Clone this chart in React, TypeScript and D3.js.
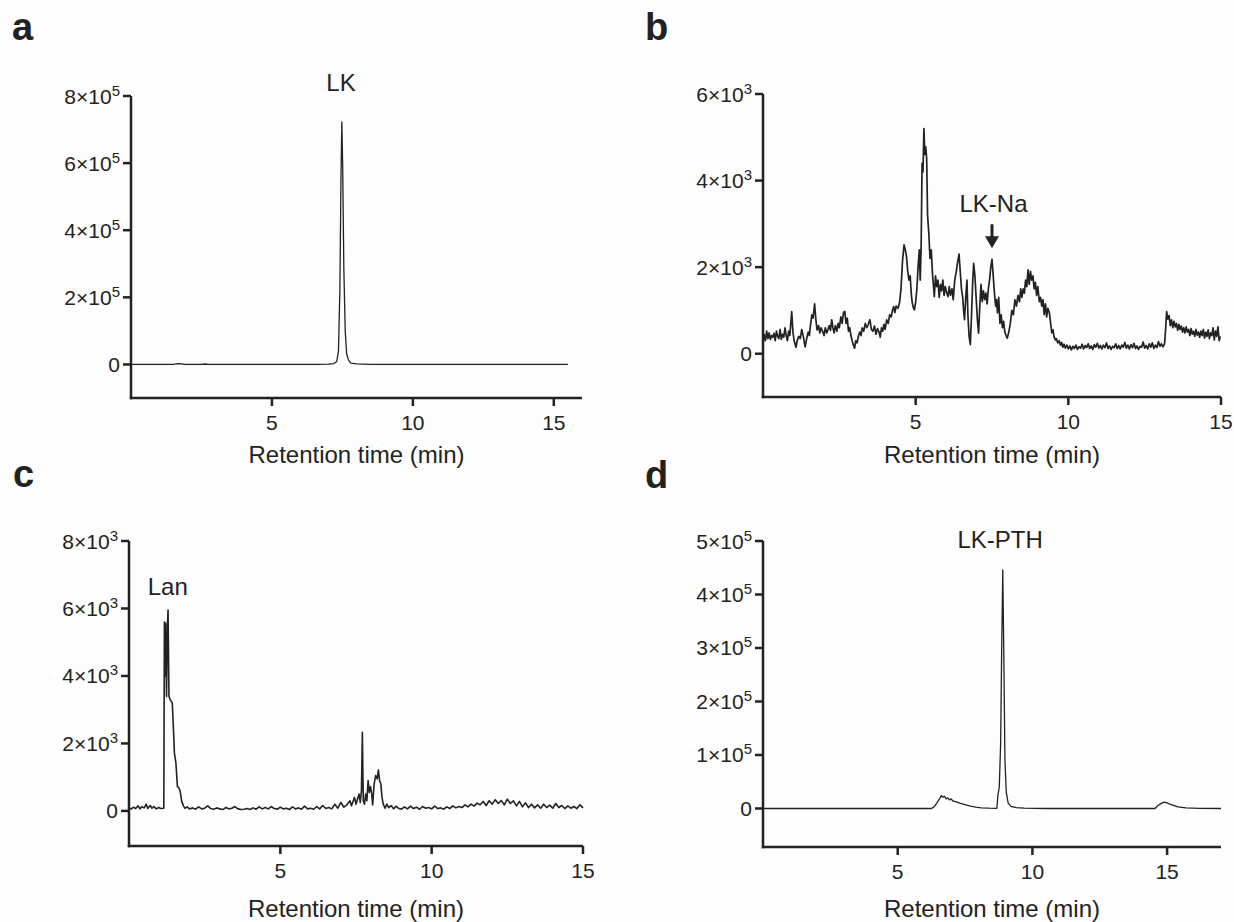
import * as d3 from 'd3';

const FONT = '"Liberation Sans", Arial, Helvetica, sans-serif';
const INK = '#222';

// ---- panel a : LK ----
const aTrace: [number, number][] = [
  [0, 0], [1.0, 300], [1.5, 200], [1.6, 1500], [1.68, 2600], [1.8, 1500], [1.9, 400], [2.1, 200],
  [2.5, 400], [2.62, 1300], [2.75, 400], [3.0, 0], [5.0, 200], [6.0, 0], [6.6, 300], [7.0, 800],
  [7.2, 2500], [7.3, 9000], [7.36, 40000], [7.41, 220000], [7.45, 560000], [7.48, 723000],
  [7.51, 590000], [7.55, 290000], [7.6, 100000], [7.65, 32000], [7.72, 12000], [7.8, 4000],
  [8.0, 1500], [8.5, 500], [9.0, 0], [12, 200], [15.5, 0],
];
const aYTicks = [0, 2e5, 4e5, 6e5, 8e5];
const aYTickLabels: [string, string][] = [['0', ''], ['2×10', '5'], ['4×10', '5'], ['6×10', '5'], ['8×10', '5']];

// ---- panel b : LK-Na ----
const bTrace: [number, number][] = [
  [0.00, 250], [0.04, 440], [0.08, 300], [0.12, 520], [0.16, 350], [0.20, 480], [0.24, 330], [0.28, 420],
  [0.32, 380], [0.36, 470], [0.40, 300], [0.44, 520], [0.48, 400], [0.52, 350], [0.56, 560], [0.60, 330],
  [0.64, 450], [0.68, 380], [0.72, 600], [0.76, 420], [0.80, 300], [0.84, 520], [0.88, 420], [0.94, 975],
  [0.98, 500], [1.02, 300], [1.08, 150], [1.12, 300], [1.17, 400], [1.22, 350], [1.27, 560], [1.32, 400],
  [1.38, 160], [1.43, 350], [1.48, 500], [1.52, 420], [1.55, 630], [1.60, 900], [1.64, 820], [1.69, 1150],
  [1.73, 800], [1.77, 550], [1.82, 650], [1.86, 480], [1.90, 600], [1.95, 520], [2.00, 420], [2.04, 600],
  [2.09, 480], [2.13, 560], [2.17, 650], [2.21, 540], [2.25, 785], [2.29, 600], [2.33, 480], [2.37, 650],
  [2.42, 520], [2.46, 700], [2.50, 600], [2.55, 850], [2.59, 700], [2.64, 960], [2.68, 975], [2.72, 700],
  [2.76, 820], [2.80, 520], [2.84, 600], [2.88, 420], [2.92, 300], [2.96, 200], [3.00, 130], [3.04, 300],
  [3.08, 250], [3.13, 420], [3.17, 500], [3.21, 420], [3.25, 600], [3.30, 520], [3.35, 700], [3.40, 600],
  [3.45, 680], [3.50, 785], [3.55, 560], [3.60, 520], [3.65, 640], [3.70, 450], [3.75, 580], [3.80, 500],
  [3.84, 380], [3.88, 600], [3.92, 520], [3.96, 680], [4.00, 560], [4.05, 780], [4.10, 700], [4.15, 900],
  [4.20, 850], [4.24, 1000], [4.28, 1090], [4.32, 950], [4.36, 1100], [4.42, 1050], [4.47, 1170], [4.52, 1500],
  [4.57, 2150], [4.62, 2515], [4.66, 2400], [4.70, 2250], [4.74, 1900], [4.78, 1700], [4.82, 1800], [4.86, 1350],
  [4.89, 1170], [4.93, 1050], [4.96, 1015], [5.00, 1200], [5.04, 1500], [5.08, 2015], [5.12, 2400], [5.15, 1700],
  [5.18, 2500], [5.21, 4400], [5.24, 4200], [5.27, 5200], [5.30, 4600], [5.33, 4780], [5.36, 4515], [5.39, 3200],
  [5.43, 2785], [5.47, 2200], [5.51, 2400], [5.55, 1860], [5.59, 1500], [5.61, 1320], [5.65, 1800], [5.69, 1550],
  [5.73, 1700], [5.77, 1300], [5.81, 1600], [5.85, 1450], [5.89, 1700], [5.93, 1350], [5.97, 1550], [6.02, 1400],
  [6.06, 1320], [6.10, 1550], [6.14, 1350], [6.19, 1500], [6.23, 1250], [6.28, 1700], [6.33, 1900], [6.37, 2100],
  [6.42, 2300], [6.46, 1900], [6.50, 1500], [6.54, 1300], [6.57, 1000], [6.60, 785], [6.64, 1300], [6.68, 1700],
  [6.71, 900], [6.75, 400], [6.79, 210], [6.83, 900], [6.87, 1700], [6.90, 2090], [6.94, 1800], [6.98, 1300],
  [7.02, 800], [7.06, 475], [7.10, 1100], [7.14, 1600], [7.18, 1200], [7.22, 1450], [7.26, 1250], [7.30, 1400],
  [7.34, 1150], [7.38, 1500], [7.42, 1700], [7.46, 2000], [7.50, 2180], [7.54, 1800], [7.58, 1400], [7.62, 1100],
  [7.65, 1250], [7.68, 945], [7.72, 1300], [7.76, 700], [7.80, 900], [7.84, 600], [7.88, 750], [7.92, 500],
  [7.96, 420], [8.00, 360], [8.05, 500], [8.10, 700], [8.15, 1000], [8.20, 900], [8.25, 1245], [8.30, 1100],
  [8.35, 1350], [8.40, 1200], [8.44, 1500], [8.48, 1300], [8.52, 1500], [8.56, 1400], [8.60, 1700], [8.64, 1550],
  [8.68, 1940], [8.72, 1600], [8.76, 1900], [8.80, 1700], [8.84, 1800], [8.88, 1500], [8.92, 1650], [8.96, 1350],
  [9.00, 1550], [9.05, 1200], [9.09, 1300], [9.13, 1100], [9.17, 1250], [9.21, 900], [9.25, 1150], [9.29, 850],
  [9.33, 1050], [9.38, 945], [9.42, 700], [9.46, 480], [9.50, 550], [9.53, 400], [9.57, 320], [9.61, 350],
  [9.65, 250], [9.70, 300], [9.74, 200], [9.78, 260], [9.82, 150], [9.86, 220], [9.90, 130], [9.95, 200],
  [10.00, 110], [10.05, 180], [10.10, 90], [10.15, 170], [10.20, 120], [10.25, 200], [10.30, 100], [10.35, 160],
  [10.40, 130], [10.45, 220], [10.50, 110], [10.55, 190], [10.60, 140], [10.65, 230], [10.70, 120], [10.75, 180],
  [10.80, 100], [10.85, 210], [10.90, 150], [10.95, 240], [11.00, 130], [11.05, 190], [11.10, 110], [11.15, 200],
  [11.20, 140], [11.25, 250], [11.30, 120], [11.35, 180], [11.40, 100], [11.45, 170], [11.50, 140], [11.55, 230],
  [11.60, 120], [11.65, 190], [11.70, 110], [11.75, 200], [11.80, 150], [11.85, 260], [11.90, 130], [11.95, 200],
  [12.00, 110], [12.05, 210], [12.10, 140], [12.15, 240], [12.20, 120], [12.25, 180], [12.30, 100], [12.35, 170],
  [12.40, 150], [12.45, 270], [12.50, 130], [12.55, 190], [12.60, 110], [12.65, 230], [12.70, 150], [12.75, 250],
  [12.80, 120], [12.85, 200], [12.90, 140], [12.95, 280], [13.00, 170], [13.05, 230], [13.10, 160], [13.15, 220],
  [13.18, 500], [13.22, 975], [13.26, 800], [13.30, 880], [13.34, 650], [13.38, 780], [13.42, 600], [13.46, 750],
  [13.50, 620], [13.54, 700], [13.58, 540], [13.62, 680], [13.66, 560], [13.70, 640], [13.74, 500], [13.78, 600],
  [13.82, 480], [13.86, 620], [13.90, 500], [13.94, 560], [13.98, 420], [14.02, 580], [14.06, 450], [14.10, 520],
  [14.14, 400], [14.18, 560], [14.22, 430], [14.26, 500], [14.30, 380], [14.34, 520], [14.38, 420], [14.42, 560],
  [14.46, 360], [14.50, 500], [14.54, 400], [14.58, 550], [14.62, 350], [14.66, 480], [14.70, 420], [14.74, 600],
  [14.78, 320], [14.82, 520], [14.86, 400], [14.90, 620], [14.94, 300], [14.98, 400],
];
const bYTicks = [0, 2000, 4000, 6000];
const bYTickLabels: [string, string][] = [['0', ''], ['2×10', '3'], ['4×10', '3'], ['6×10', '3']];

// ---- panel c : Lan ----
const cTrace: [number, number][] = [
  [0.00, 80], [0.08, 60], [0.15, 110], [0.22, 70], [0.30, 150], [0.36, 60], [0.42, 120], [0.50, 90],
  [0.57, 200], [0.62, 70], [0.70, 160], [0.76, 80], [0.82, 130], [0.90, 60], [0.98, 100], [1.05, 70],
  [1.15, 80], [1.17, 5600], [1.20, 4000], [1.21, 5570], [1.24, 3390], [1.27, 5500], [1.29, 5950], [1.32, 3400],
  [1.36, 3300], [1.43, 3200], [1.47, 2400], [1.50, 1720], [1.55, 1420], [1.60, 720], [1.65, 680], [1.69, 590],
  [1.74, 290], [1.80, 150], [1.85, 80], [1.92, 120], [2.00, 60], [2.10, 90], [2.20, 50], [2.30, 120],
  [2.40, 60], [2.50, 80], [2.60, 150], [2.70, 70], [2.80, 50], [2.90, 90], [3.00, 60], [3.10, 40],
  [3.20, 100], [3.30, 60], [3.40, 80], [3.50, 130], [3.60, 60], [3.70, 40], [3.80, 50], [3.90, 70],
  [4.00, 40], [4.10, 90], [4.20, 50], [4.30, 120], [4.40, 60], [4.50, 100], [4.60, 60], [4.70, 130],
  [4.80, 70], [4.90, 50], [5.00, 110], [5.10, 60], [5.20, 80], [5.30, 40], [5.40, 120], [5.50, 60],
  [5.60, 90], [5.70, 50], [5.80, 140], [5.90, 60], [6.00, 80], [6.10, 50], [6.20, 130], [6.30, 60],
  [6.40, 160], [6.50, 70], [6.60, 100], [6.70, 60], [6.80, 200], [6.90, 80], [7.00, 250], [7.10, 110],
  [7.20, 180], [7.30, 300], [7.35, 150], [7.45, 400], [7.50, 200], [7.55, 350], [7.60, 500], [7.64, 250],
  [7.68, 600], [7.71, 2330], [7.74, 300], [7.78, 200], [7.82, 500], [7.86, 300], [7.90, 900], [7.94, 550],
  [7.98, 720], [8.02, 500], [8.05, 180], [8.10, 800], [8.15, 1050], [8.20, 950], [8.24, 1210], [8.28, 900],
  [8.32, 800], [8.36, 400], [8.40, 200], [8.46, 80], [8.52, 200], [8.58, 100], [8.66, 160], [8.74, 60],
  [8.82, 140], [8.90, 80], [9.00, 50], [9.10, 120], [9.20, 60], [9.30, 140], [9.40, 70], [9.50, 110],
  [9.60, 50], [9.70, 130], [9.80, 80], [9.90, 100], [10.00, 60], [10.10, 140], [10.20, 70], [10.30, 90],
  [10.40, 50], [10.50, 120], [10.60, 70], [10.70, 150], [10.80, 90], [10.90, 130], [11.00, 100], [11.10, 180],
  [11.20, 120], [11.30, 200], [11.40, 140], [11.50, 230], [11.60, 180], [11.70, 280], [11.80, 160], [11.90, 300],
  [12.00, 200], [12.10, 330], [12.20, 220], [12.30, 310], [12.40, 180], [12.50, 350], [12.60, 220], [12.70, 300],
  [12.80, 150], [12.90, 280], [13.00, 120], [13.10, 240], [13.20, 100], [13.30, 200], [13.40, 90], [13.50, 180],
  [13.60, 80], [13.70, 200], [13.80, 100], [13.90, 170], [14.00, 80], [14.10, 220], [14.20, 100], [14.30, 160],
  [14.40, 70], [14.50, 150], [14.60, 80], [14.70, 130], [14.80, 70], [14.90, 180], [15.00, 90],
];
const cYTicks = [0, 2000, 4000, 6000, 8000];
const cYTickLabels: [string, string][] = [['0', ''], ['2×10', '3'], ['4×10', '3'], ['6×10', '3'], ['8×10', '3']];

// ---- panel d : LK-PTH ----
const dTrace: [number, number][] = [
  [0, 0], [6.25, 0], [6.35, 3000], [6.45, 10000], [6.55, 18000], [6.62, 24000], [6.68, 21000], [6.73, 23000],
  [6.8, 18000], [6.86, 20000], [6.92, 16000], [6.98, 18000], [7.05, 14000], [7.15, 13000], [7.3, 10000],
  [7.5, 7000], [7.7, 4500], [7.9, 2500], [8.1, 1200], [8.4, 500], [8.68, 300], [8.72, 25000], [8.77, 40000],
  [8.82, 120000], [8.86, 300000], [8.9, 446000], [8.94, 280000], [8.98, 90000], [9.03, 30000], [9.1, 10000],
  [9.2, 4000], [9.4, 1500], [9.7, 500], [10.5, 0], [14.55, 0], [14.65, 5000], [14.8, 10000], [14.9, 12000],
  [15.0, 10500], [15.15, 7000], [15.4, 3000], [15.7, 1000], [16.2, 200], [17, 0],
];
const dYTicks = [0, 1e5, 2e5, 3e5, 4e5, 5e5];
const dYTickLabels: [string, string][] = [['0', ''], ['1×10', '5'], ['2×10', '5'], ['3×10', '5'], ['4×10', '5'], ['5×10', '5']];

const xTicks = [5, 10, 15];
const xTitle = 'Retention time (min)';

type Box = { left: number; right: number; top: number; bottom: number };

function Panel(props: {
  letter: string;
  letterX: number;
  letterY: number;
  box: Box;
  xMax: number;
  yDomain: [number, number];
  trace: [number, number][];
  yTicks: number[];
  yTickLabels: [string, string][];
  label: string;
  labelAt: [number, number];
  titleY: number;
  lineWidth: number;
  arrowAt?: [number, number];
}) {
  const { box } = props;
  const x = d3.scaleLinear().domain([0, props.xMax]).range([box.left, box.right]);
  const y = d3.scaleLinear().domain(props.yDomain).range([box.bottom, box.top]);
  const line = d3.line<[number, number]>()
    .x(d => x(d[0]))
    .y(d => y(d[1]));

  return (
    <g>
      <text x={props.letterX} y={props.letterY} fontSize={38} fontWeight="bold" fill={INK}>{props.letter}</text>

      <path d={line(props.trace) || ''} fill="none" stroke={INK} strokeWidth={props.lineWidth} strokeLinejoin="round" />

      {/* axes */}
      <line x1={box.left} x2={box.left} y1={box.top} y2={box.bottom + 1.25} stroke={INK} strokeWidth={2.5} />
      <line x1={box.left - 1.25} x2={box.right} y1={box.bottom} y2={box.bottom} stroke={INK} strokeWidth={2.5} />

      {props.yTicks.map((t, i) => (
        <g key={'y' + t}>
          <line x1={box.left - 8} x2={box.left} y1={y(t)} y2={y(t)} stroke={INK} strokeWidth={2.5} />
          <text x={box.left - 11} y={y(t) + 7.5} textAnchor="end" fontSize={21} fill={INK}>
            {props.yTickLabels[i][0]}
            {props.yTickLabels[i][1] && <tspan dy={-8} fontSize={15}>{props.yTickLabels[i][1]}</tspan>}
          </text>
        </g>
      ))}

      {xTicks.map(t => (
        <g key={'x' + t}>
          <line x1={x(t)} x2={x(t)} y1={box.bottom} y2={box.bottom + 8} stroke={INK} strokeWidth={2.5} />
          <text x={x(t)} y={box.bottom + 32} textAnchor="middle" fontSize={21} fill={INK}>{t}</text>
        </g>
      ))}

      <text x={(box.left + box.right) / 2} y={props.titleY} textAnchor="middle" fontSize={24} fill={INK}>{xTitle}</text>

      <text x={x(props.labelAt[0])} y={y(props.labelAt[1])} textAnchor="middle" fontSize={24} fill={INK}>{props.label}</text>

      {props.arrowAt && (
        <g>
          <line x1={x(props.arrowAt[0])} x2={x(props.arrowAt[0])} y1={y(props.arrowAt[1])} y2={y(props.arrowAt[1]) + 14} stroke={INK} strokeWidth={3} />
          <path
            d={`M${x(props.arrowAt[0]) - 7},${y(props.arrowAt[1]) + 12} L${x(props.arrowAt[0]) + 7},${y(props.arrowAt[1]) + 12} L${x(props.arrowAt[0])},${y(props.arrowAt[1]) + 24} Z`}
            fill={INK}
          />
        </g>
      )}
    </g>
  );
}

export default function App() {
  return (
    <svg
      width={1234}
      height={922}
      style={{ position: 'absolute', left: 0, top: 0, background: '#fdfdfd' }}
      fontFamily={FONT}
    >
      <Panel
        letter="a" letterX={12} letterY={40}
        box={{ left: 131, right: 582, top: 96, bottom: 398 }}
        xMax={16} yDomain={[-1e5, 8e5]} trace={aTrace}
        yTicks={aYTicks} yTickLabels={aYTickLabels}
        label="LK" labelAt={[7.45, 8.15e5]} titleY={463} lineWidth={1.3}
      />
      <Panel
        letter="b" letterX={645} letterY={40}
        box={{ left: 763, right: 1221, top: 94, bottom: 397 }}
        xMax={15} yDomain={[-1000, 6000]} trace={bTrace}
        yTicks={bYTicks} yTickLabels={bYTickLabels}
        label="LK-Na" labelAt={[7.55, 3280]} titleY={463} lineWidth={1.7}
        arrowAt={[7.5, 2990]}
      />
      <Panel
        letter="c" letterX={13} letterY={487}
        box={{ left: 129, right: 583, top: 541, bottom: 846 }}
        xMax={15} yDomain={[-1040, 8000]} trace={cTrace}
        yTicks={cYTicks} yTickLabels={cYTickLabels}
        label="Lan" labelAt={[1.28, 6410]} titleY={917} lineWidth={1.6}
      />
      <Panel
        letter="d" letterX={645} letterY={488}
        box={{ left: 763, right: 1221, top: 541, bottom: 847 }}
        xMax={17} yDomain={[-72000, 500000]} trace={dTrace}
        yTicks={dYTicks} yTickLabels={dYTickLabels}
        label="LK-PTH" labelAt={[8.8, 487000]} titleY={917} lineWidth={1.3}
      />
    </svg>
  );
}
